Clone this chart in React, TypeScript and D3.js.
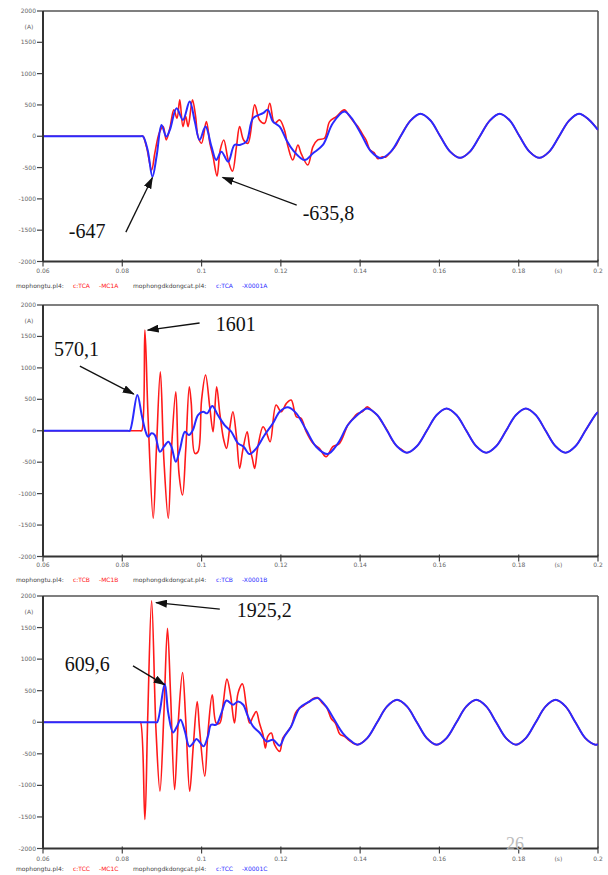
import React from 'react';
import * as d3 from 'd3';

// ---------- axis / tick data ----------
const X_TICKS = [0.06, 0.08, 0.1, 0.12, 0.14, 0.16, 0.18, 0.2];
const X_TICK_LABELS = ['0.06', '0.08', '0.1', '0.12', '0.14', '0.16', '0.18', '0.2'];
const Y_TICKS = [2000, 1500, 1000, 500, 0, -500, -1000, -1500, -2000];
const Y_TICK_LABELS = ['2000', '1500', '1000', '500', '0', '-500', '-1000', '-1500', '-2000'];
const X_DOMAIN = [0.06, 0.2];
const Y_DOMAIN = [-2000, 2000];

// ---------- phase A ----------
const tBlueA = [0.06, 0.07, 0.08, 0.0846, 0.0852, 0.0864, 0.0876, 0.0887, 0.0899, 0.0911, 0.092, 0.0937, 0.0953, 0.097, 0.0983, 0.0995, 0.101, 0.1025, 0.1037, 0.105, 0.1067, 0.1083, 0.1096, 0.1113, 0.113, 0.1155, 0.1167, 0.118, 0.1197, 0.1214, 0.123, 0.126, 0.1281, 0.1306, 0.1331, 0.136];
const vBlueA = [0, 0, 0, 0, 0, -219, -647, -300, 181, -6, 100, 448, 261, 554, 234, -59, 154, -166, -379, -246, -406, -139, -139, -86, 288, 368, 421, 234, 154, -59, -219, -379, -272, -139, 208, 394];
const tRedA = [0.06, 0.07, 0.08, 0.0846, 0.0852, 0.0861, 0.0874, 0.0882, 0.0893, 0.0903, 0.0911, 0.092, 0.093, 0.0938, 0.0945, 0.0953, 0.096, 0.0966, 0.0977, 0.0985, 0.0991, 0.1, 0.1012, 0.1021, 0.1029, 0.1039, 0.1047, 0.1056, 0.1067, 0.1078, 0.1088, 0.1096, 0.1106, 0.1117, 0.1134, 0.1146, 0.1159, 0.1172, 0.1184, 0.1197, 0.1209, 0.1218, 0.123, 0.1243, 0.1251, 0.1268, 0.1281, 0.1293, 0.131, 0.1323, 0.134, 0.136, 0.1372, 0.1385, 0.1395, 0.1405, 0.1415, 0.1425, 0.1435, 0.1445, 0.1455, 0.1465, 0.1477, 0.149];
const vRedA = [0, 0, 0, 0, 0, -166, -539, -272, 48, 154, -59, 128, 421, 288, 581, 154, 314, 154, 581, 314, -6, -112, 234, -112, -326, -636, -219, -59, -379, -560, -166, 154, -59, -112, 501, 261, 208, 528, 208, 261, 101, -166, -379, -139, -272, -459, -166, -59, -32, 234, 314, 421, 330, 220, 150, 40, -60, -220, -260, -360, -330, -330, -250, -150];
const tSteadyA = [0.1377, 0.1402, 0.1427, 0.1452, 0.1477, 0.1502, 0.1527, 0.1552, 0.1577, 0.1602, 0.1627, 0.1652, 0.1677, 0.1702, 0.1727, 0.1752, 0.1777, 0.1802, 0.1827, 0.1852, 0.1877, 0.1902, 0.1927, 0.1952, 0.1977, 0.2];
const vSteadyA = [300, 40, -240, -350, -250, 0, 250, 360, 255, 0, -245, -345, -245, 0, 250, 360, 255, 0, -245, -345, -245, 0, 250, 360, 265, 100];

// ---------- phase B ----------
const tBlueB = [0.06, 0.07, 0.08, 0.0814, 0.0819, 0.0838, 0.0849, 0.0859, 0.0865, 0.0874, 0.0882, 0.0895, 0.0905, 0.0916, 0.0924, 0.0935, 0.0945, 0.0958, 0.0968, 0.0978, 0.0991, 0.1004, 0.1014, 0.1027, 0.1041, 0.1058, 0.1075, 0.1092, 0.1106, 0.1121, 0.1138, 0.1159, 0.118, 0.1197, 0.1218, 0.1239, 0.1264, 0.1289, 0.1318, 0.1344, 0.1369];
const vBlueB = [0, 0, 0, 0, 0, 570, 250, -16, -95, -41, -68, -334, -254, -175, -254, -493, -307, -16, -68, 11, 250, 302, 277, 393, 250, 91, -16, -200, -254, -370, -280, -68, 118, 302, 372, 277, 11, -254, -370, -200, 91];
const tRedB = [0.06, 0.07, 0.08, 0.0845, 0.0849, 0.0857, 0.0865, 0.0878, 0.0886, 0.0896, 0.0905, 0.0916, 0.0924, 0.0935, 0.0943, 0.0952, 0.096, 0.0969, 0.0974, 0.0983, 0.0991, 0.1, 0.101, 0.1021, 0.1029, 0.1038, 0.1046, 0.1056, 0.1063, 0.1071, 0.1079, 0.1088, 0.1096, 0.1104, 0.1115, 0.1121, 0.1128, 0.1134, 0.1142, 0.1155, 0.1163, 0.1173, 0.1188, 0.1201, 0.1214, 0.1226, 0.1239, 0.1251, 0.1264, 0.1281, 0.1297, 0.1314, 0.1331, 0.1348, 0.1369, 0.138, 0.1393, 0.1405, 0.1418, 0.143, 0.1443, 0.1455, 0.1468, 0.148, 0.1493, 0.1505];
const vRedB = [0, 0, 0, 0, 0, 1601, 223, -1393, -307, 938, -466, -1393, -307, 620, -677, -1022, -307, 700, 436, -359, -334, 488, 886, 356, -16, 700, 277, -148, -280, 38, 302, -95, -598, -307, -16, -254, -439, -598, -254, 64, -16, -175, 409, 302, 436, 488, 223, 197, -16, -200, -280, -413, -254, -200, 91, 180, 270, 300, 380, 320, 250, 140, 10, -140, -250, -300];
const tSteadyB = [0.1393, 0.1418, 0.1443, 0.1468, 0.1493, 0.1518, 0.1543, 0.1568, 0.1593, 0.1618, 0.1643, 0.1668, 0.1693, 0.1718, 0.1743, 0.1768, 0.1793, 0.1818, 0.1843, 0.1868, 0.1893, 0.1918, 0.1943, 0.1968, 0.1993, 0.2];
const vSteadyB = [250, 355, 250, 0, -247, -350, -247, 0, 250, 355, 250, 0, -247, -350, -247, 0, 250, 355, 250, 0, -247, -350, -247, 0, 250, 300];

// ---------- phase C ----------
const tBlueC = [0.06, 0.07, 0.08, 0.0883, 0.0888, 0.0907, 0.0916, 0.0928, 0.0938, 0.0947, 0.0958, 0.0969, 0.0979, 0.0987, 0.0997, 0.1005, 0.1016, 0.1024, 0.1037, 0.105, 0.1063, 0.1079, 0.1092, 0.1105, 0.1117, 0.113, 0.1147, 0.1164, 0.118, 0.1197, 0.1209, 0.1226, 0.1247, 0.1268, 0.1293, 0.1314, 0.1335, 0.1356, 0.1373];
const vBlueC = [0, 0, 0, 0, 0, 610, 145, -161, -66, 40, -145, -382, -329, -265, -329, -382, -224, -40, -40, 145, 344, 277, 329, 277, 92, -66, -171, -303, -277, -371, -224, -66, 224, 313, 382, 250, 40, -171, -277];
const tRedC = [0.06, 0.07, 0.08, 0.0843, 0.0846, 0.0857, 0.0864, 0.0874, 0.0885, 0.0895, 0.0905, 0.0914, 0.0922, 0.0932, 0.0941, 0.0952, 0.096, 0.097, 0.0979, 0.0989, 0.0995, 0.1008, 0.1016, 0.1027, 0.1037, 0.1046, 0.1054, 0.1064, 0.1073, 0.1083, 0.1092, 0.1103, 0.1113, 0.1121, 0.113, 0.1138, 0.1146, 0.1155, 0.1161, 0.1167, 0.1176, 0.1184, 0.1197, 0.1205, 0.1214, 0.1226, 0.1237, 0.1247, 0.1257, 0.1268, 0.128, 0.1293, 0.1305, 0.1316, 0.1327, 0.1338, 0.1349, 0.1362, 0.1373];
const vRedC = [0, 0, 0, 0, 0, -1541, 40, 1925, -118, -1090, 145, 1488, 408, -1066, -13, 787, 40, -1093, -382, 329, -118, -856, -171, 434, -13, -13, 277, 683, 434, -13, 461, 608, 250, -13, 92, 171, -13, -198, -408, -224, -171, -356, -461, -250, -171, -66, 150, 224, 260, 313, 370, 390, 300, 230, 60, -20, -190, -230, -290];
const tSteadyC = [0.1393, 0.1418, 0.1443, 0.1468, 0.1493, 0.1518, 0.1543, 0.1568, 0.1593, 0.1618, 0.1643, 0.1668, 0.1693, 0.1718, 0.1743, 0.1768, 0.1793, 0.1818, 0.1843, 0.1868, 0.1893, 0.1918, 0.1943, 0.1968, 0.1993, 0.2];
const vSteadyC = [-355, -251, 0, 251, 355, 251, 0, -251, -355, -251, 0, 251, 355, 251, 0, -251, -355, -251, 0, 251, 355, 251, 0, -251, -355, -345];

// ---------- legends ----------
const LEGEND_FILES = ['mophongtu.pl4:', 'mophongdkdongcat.pl4:'];
const LEGEND_A = ['c:TCA', '-MC1A', 'c:TCA', '-X0001A'];
const LEGEND_B = ['c:TCB', '-MC1B', 'c:TCB', '-X0001B'];
const LEGEND_C = ['c:TCC', '-MC1C', 'c:TCC', '-X0001C'];

// ---------- annotations: [label, tipT, tipV, tailT, tailV, textT, textV] ----------
const ANN_A = [
  ['-647', 0.0876, -660, 0.0809, -1531, 0.0665, -1630],
  ['-635,8', 0.1053, -656, 0.124, -1099, 0.1255, -1339],
];
const ANN_B = [
  ['570,1', 0.0829, 583, 0.0693, 1029, 0.0628, 1188],
  ['1601', 0.0864, 1601, 0.0995, 1714, 0.1036, 1585],
];
const ANN_C = [
  ['1925,2', 0.0885, 1896, 0.1046, 1793, 0.1089, 1667],
  ['609,6', 0.0907, 593, 0.0827, 893, 0.0655, 814],
];

const PLOT_LEFT = 43;
const PLOT_RIGHT = 598;

const zip = (t: number[], v: number[]) => t.map((x, i) => [x, v[i]] as [number, number]);

interface PanelProps {
  top: number;
  bottom: number;
  blue: [number, number][];
  red: [number, number][];
  legend: string[];
  ann: any[];
  id: string;
  labelGap: number;
  legendGap: number;
}

function Panel({ top, bottom, blue, red, legend, ann, id, labelGap, legendGap }: PanelProps) {
  const x = d3.scaleLinear().domain(X_DOMAIN).range([PLOT_LEFT, PLOT_RIGHT]);
  const y = d3.scaleLinear().domain(Y_DOMAIN).range([bottom, top]);
  const line = d3
    .line<[number, number]>()
    .x((d) => x(d[0]))
    .y((d) => y(d[1]))
    .curve(d3.curveCatmullRom.alpha(0.5));
  const tickFont = '"DejaVu Sans", sans-serif';
  return (
    <g>
      <defs>
        <clipPath id={'clip' + id}>
          <rect x={PLOT_LEFT} y={top} width={PLOT_RIGHT - PLOT_LEFT} height={bottom - top} />
        </clipPath>
      </defs>
      {/* frame */}
      <line x1={PLOT_LEFT} x2={PLOT_RIGHT} y1={top} y2={top} stroke="#555" strokeWidth={1.6} />
      <line x1={PLOT_RIGHT} x2={PLOT_RIGHT} y1={top} y2={bottom} stroke="#555" strokeWidth={1.6} />
      {/* y axis */}
      {Y_TICKS.map((v, i) => (
        <g key={'y' + i}>
          <line x1={PLOT_LEFT - 6} x2={PLOT_LEFT} y1={y(v)} y2={y(v)} stroke="#444" strokeWidth={1.2} />
          <text x={PLOT_LEFT - 7} y={y(v) + 2} fontSize={6} fill="#666" textAnchor="end" fontFamily={tickFont}>
            {Y_TICK_LABELS[i]}
          </text>
        </g>
      ))}
      <text x={29} y={y(1750) + 2} fontSize={6} fill="#666" textAnchor="middle" fontFamily={tickFont}>
        (A)
      </text>
      {/* x axis */}
      {X_TICKS.map((t, i) => (
        <g key={'x' + i}>
          <line x1={x(t)} x2={x(t)} y1={bottom - 2} y2={bottom + 5} stroke="#444" strokeWidth={1.2} />
          <text x={x(t)} y={bottom + labelGap} fontSize={6} fill="#666" textAnchor="middle" fontFamily={tickFont}>
            {X_TICK_LABELS[i]}
          </text>
        </g>
      ))}
      <text x={x(0.19)} y={bottom + labelGap} fontSize={6} fill="#666" textAnchor="middle" fontFamily={tickFont}>
        (s)
      </text>
      {/* series */}
      <g clipPath={`url(#clip${id})`}>
        <path d={line(red) || ''} fill="none" stroke="#ff1a1a" strokeWidth={1.6} strokeLinejoin="round" />
        <path d={line(blue) || ''} fill="none" stroke="#2a2aff" strokeWidth={2} strokeLinejoin="round" />
      </g>
      <line x1={PLOT_LEFT} x2={PLOT_RIGHT} y1={bottom} y2={bottom} stroke="#333" strokeWidth={1.8} />
      <line x1={PLOT_LEFT} x2={PLOT_LEFT} y1={top} y2={bottom} stroke="#333" strokeWidth={2} />
      {/* legend */}
      <g fontSize={6} fontFamily={tickFont}>
        <text x={16} y={bottom + legendGap} fill="#444">{LEGEND_FILES[0]}</text>
        <text x={73} y={bottom + legendGap} fill="#ff2020">{legend[0]}</text>
        <text x={99} y={bottom + legendGap} fill="#ff2020">{legend[1]}</text>
        <text x={133} y={bottom + legendGap} fill="#444">{LEGEND_FILES[1]}</text>
        <text x={216} y={bottom + legendGap} fill="#3030ff">{legend[2]}</text>
        <text x={242} y={bottom + legendGap} fill="#3030ff">{legend[3]}</text>
      </g>
      {/* annotations */}
      {ann.map((a, i) => (
        <g key={'a' + i}>
          <line
            x1={x(a[3])}
            y1={y(a[4])}
            x2={x(a[1])}
            y2={y(a[2])}
            stroke="#111"
            strokeWidth={1.3}
            markerEnd="url(#arrowHead)"
          />
          <text x={x(a[5])} y={y(a[6])} fontSize={20} fill="#111" fontFamily='"Liberation Serif", "Times New Roman", serif'>
            {a[0]}
          </text>
        </g>
      ))}
    </g>
  );
}

export default function App() {
  const blueA = zip(tBlueA, vBlueA).concat(zip(tSteadyA, vSteadyA));
  const redA = zip(tRedA, vRedA).concat(zip(tSteadyA.slice(5), vSteadyA.slice(5)));
  const blueB = zip(tBlueB, vBlueB).concat(zip(tSteadyB, vSteadyB));
  const redB = zip(tRedB, vRedB).concat(zip(tSteadyB.slice(5), vSteadyB.slice(5)));
  const blueC = zip(tBlueC, vBlueC).concat(zip(tSteadyC, vSteadyC));
  const redC = zip(tRedC, vRedC).concat(zip(tSteadyC, vSteadyC));
  return (
    <svg
      width={608}
      height={875}
      style={{ position: 'absolute', left: 0, top: 0, background: '#fff' }}
    >
      <defs>
        <marker
          id="arrowHead"
          markerUnits="userSpaceOnUse"
          markerWidth={12}
          markerHeight={8}
          refX={11}
          refY={4}
          orient="auto"
        >
          <path d="M0,0 L12,4 L0,8 Z" fill="#111" />
        </marker>
      </defs>
      <rect x={0} y={0} width={608} height={875} fill="#fff" />
      <Panel id="a" top={11} bottom={261.5} blue={blueA} red={redA} legend={LEGEND_A} ann={ANN_A} labelGap={11.5} legendGap={26} />
      <Panel id="b" top={305} bottom={556.5} blue={blueB} red={redB} legend={LEGEND_B} ann={ANN_B} labelGap={10.5} legendGap={25.5} />
      <Panel id="c" top={596} bottom={848.5} blue={blueC} red={redC} legend={LEGEND_C} ann={ANN_C} labelGap={12} legendGap={22.5} />
      <text x={506} y={850} fontSize={18} fill="#bbb" fontFamily='"Liberation Serif", serif'>
        26
      </text>
    </svg>
  );
}
